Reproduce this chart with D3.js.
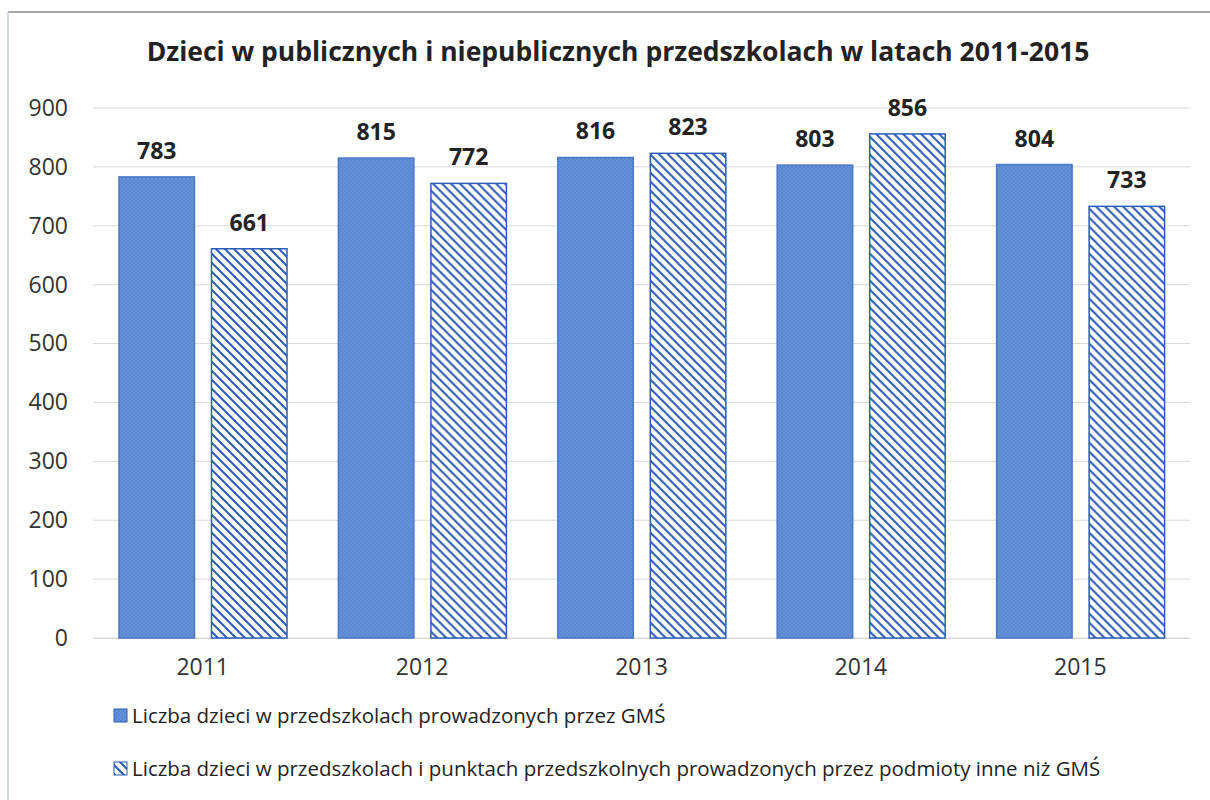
<!DOCTYPE html>
<html>
<head>
<meta charset="utf-8">
<script src="https://cdn.jsdelivr.net/npm/d3@7"></script>
<style>
  body { margin: 0; background: #fff; }
  svg { display: block; font-family: "Open Sans", "Noto Sans", sans-serif; }
</style>
</head>
<body>
<div id="chart"></div>
<script>
const years = ['2011', '2012', '2013', '2014', '2015']
const gmsValues = [783, 815, 816, 803, 804]
const otherValues = [661, 772, 823, 856, 733]
const yTicks = [0, 100, 200, 300, 400, 500, 600, 700, 800, 900]
const seriesNames = [
  'Liczba dzieci w przedszkolach prowadzonych przez GMŚ',
  'Liczba dzieci w przedszkolach i punktach przedszkolnych prowadzonych przez podmioty inne niż  GMŚ'
]
const title = 'Dzieci w publicznych i niepublicznych przedszkolach w latach 2011-2015'

const width = 1210
const height = 800
const margin = { top: 108, left: 93, right: 20, bottom: 162 }
const plotW = width - margin.left - margin.right
const plotH = height - margin.top - margin.bottom

let svg = d3.select('#chart').append('svg')
  .attr('width', width)
  .attr('height', height)

// patterns: dotted fill for GMŚ bars, diagonal hatch for the others
let defs = svg.append('defs')
let dots = defs.append('pattern')
  .attr('id', 'dots')
  .attr('patternUnits', 'userSpaceOnUse')
  .attr('width', 4).attr('height', 4)
dots.append('rect').attr('width', 4).attr('height', 4).attr('fill', '#5a87d2')
dots.append('circle').attr('cx', 1).attr('cy', 1).attr('r', 0.7).attr('fill', '#7ea2e0')
dots.append('circle').attr('cx', 3).attr('cy', 3).attr('r', 0.7).attr('fill', '#7ea2e0')

let hatch = defs.append('pattern')
  .attr('id', 'hatch')
  .attr('patternUnits', 'userSpaceOnUse')
  .attr('width', 9).attr('height', 9)
hatch.append('rect').attr('width', 9).attr('height', 9).attr('fill', '#fff')
hatch.append('path')
  .attr('d', 'M-2,-2 L11,11 M-2,7 L2,11 M7,-2 L11,2')
  .attr('stroke', '#2c5cb8')
  .attr('stroke-width', 2)

// frame
svg.append('line').attr('x1', 8).attr('x2', 1210).attr('y1', 12).attr('y2', 12)
  .attr('stroke', '#8a8a8a').attr('stroke-width', 1.5)
svg.append('line').attr('x1', 8).attr('x2', 8).attr('y1', 12).attr('y2', 800)
  .attr('stroke', '#c5cbe6').attr('stroke-width', 1.5)

svg.append('text')
  .attr('x', 618).attr('y', 61)
  .attr('text-anchor', 'middle')
  .attr('font-size', 26.5)
  .attr('font-weight', 'bold')
  .attr('fill', '#222')
  .text(title)

let g = svg.append('g').attr('transform', `translate(${margin.left},${margin.top})`)

let x0 = d3.scaleBand().domain(years).range([0, plotW])
let x1 = d3.scaleBand().domain([0, 1]).range([26, 194]).paddingInner(0.184)
let y = d3.scaleLinear().domain([0, 900]).range([plotH, 0])

// grid
g.selectAll('.grid').data(yTicks).enter().append('line')
  .attr('x1', 0).attr('x2', plotW)
  .attr('y1', d => y(d)).attr('y2', d => y(d))
  .attr('stroke', '#d9d9d9').attr('stroke-width', 1)

let yAxis = g.append('g').call(d3.axisLeft(y).tickValues(yTicks).tickSize(0).tickPadding(25))
yAxis.select('.domain').remove()
yAxis.selectAll('text').attr('font-size', 23).attr('fill', '#333').attr('font-family', 'Open Sans')

let xAxis = g.append('g').attr('transform', `translate(0,${plotH})`)
  .call(d3.axisBottom(x0).tickSize(0).tickPadding(21))
xAxis.select('.domain').attr('stroke', '#d9d9d9')
xAxis.selectAll('text').attr('font-size', 23).attr('fill', '#333').attr('font-family', 'Open Sans')

let rows = years.map((yr, i) => ({ year: yr, values: [gmsValues[i], otherValues[i]] }))
let groups = g.selectAll('.grp').data(rows).enter().append('g')
  .attr('transform', d => `translate(${x0(d.year)},0)`)

groups.selectAll('rect').data(d => d.values).enter().append('rect')
  .attr('x', (d, i) => x1(i))
  .attr('y', d => y(d))
  .attr('width', x1.bandwidth())
  .attr('height', d => plotH - y(d))
  .attr('fill', (d, i) => i === 0 ? 'url(#dots)' : 'url(#hatch)')
  .attr('stroke', (d, i) => i === 0 ? '#4a78c6' : '#2c5cb8')
  .attr('stroke-width', 1.5)

groups.selectAll('.lbl').data(d => d.values).enter().append('text')
  .attr('x', (d, i) => x1(i) + x1.bandwidth() / 2)
  .attr('y', d => y(d) - 18)
  .attr('text-anchor', 'middle')
  .attr('font-size', 23)
  .attr('font-weight', 'bold')
  .attr('fill', '#222')
  .text(d => d)

// legend
let legend = svg.append('g').attr('transform', 'translate(114,0)')
seriesNames.forEach((name, i) => {
  let ly = 716 + i * 53
  legend.append('rect')
    .attr('x', 0).attr('y', ly - 7).attr('width', 13).attr('height', 13)
    .attr('fill', i === 0 ? 'url(#dots)' : 'url(#hatch)')
    .attr('stroke', '#2c5cb8').attr('stroke-width', 1)
  legend.append('text')
    .attr('x', 18).attr('y', ly + 7)
    .attr('font-size', 20.5)
    .attr('fill', '#222')
    .text(name)
})
</script>
</body>
</html>
